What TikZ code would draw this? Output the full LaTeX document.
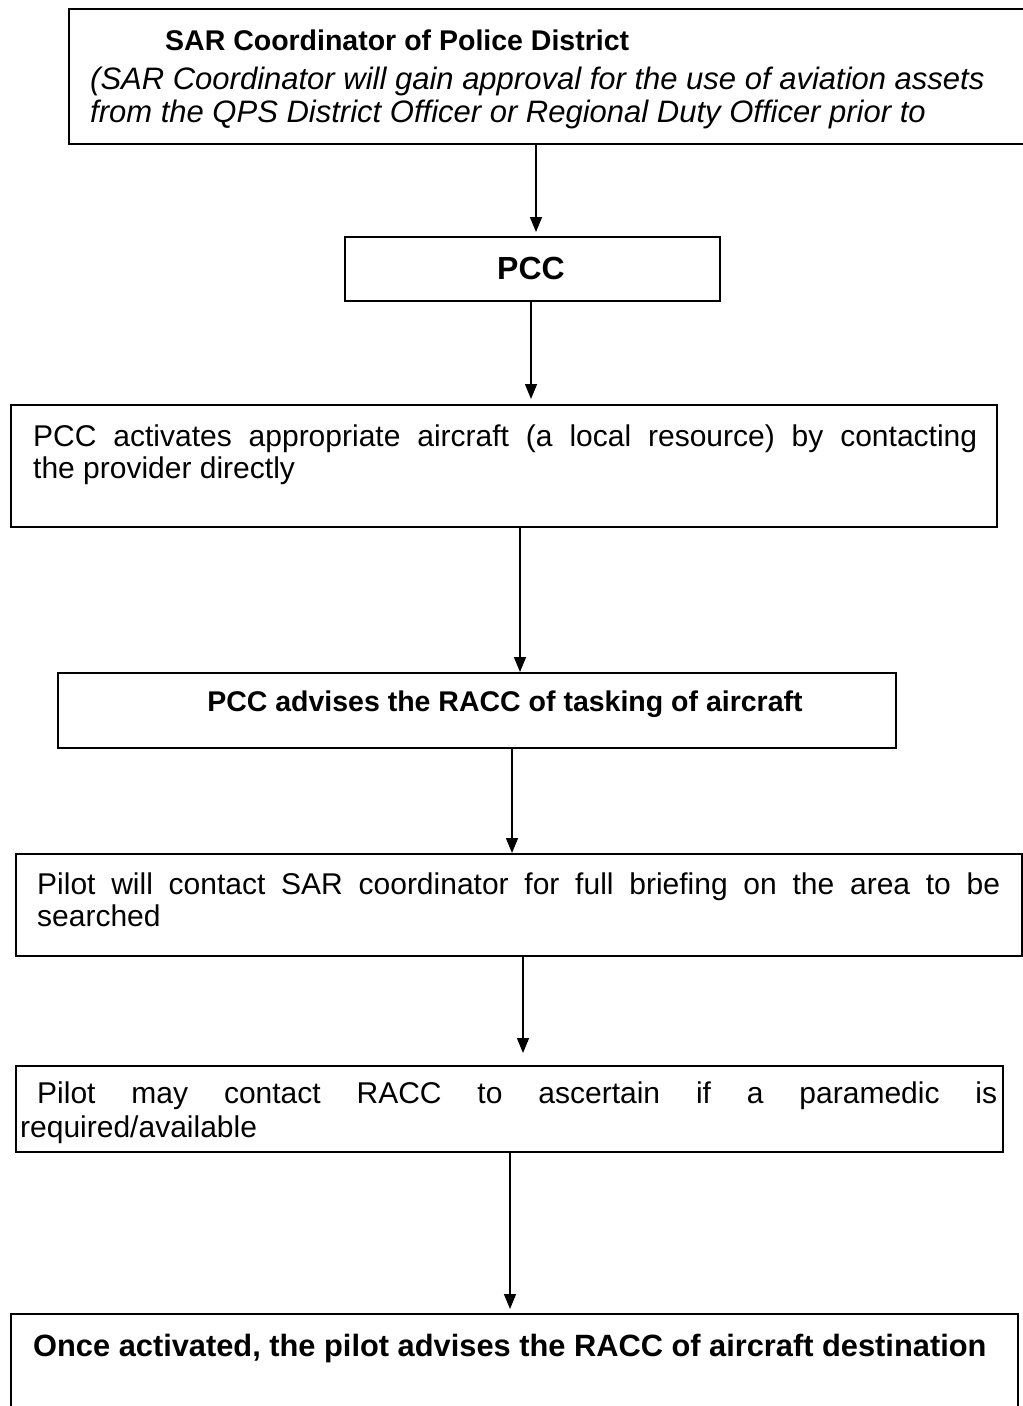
\documentclass[tikz,border=0pt]{standalone}
\usepackage{fontspec}
\setmainfont{Liberation Sans}
\usetikzlibrary{arrows.meta}
\begin{document}
\begin{tikzpicture}[x=1pt,y=-1pt,
  stepbox/.style={draw, line width=2.2pt, inner sep=0pt, anchor=north west},
  flow/.style={line width=1.5pt, -{Triangle[length=15pt,width=12pt]}},
  txt/.style={inner sep=0pt, anchor=base west},
  body/.style={txt, align=justify, font=\fontsize{30}{32}\selectfont},
  boldline/.style={inner sep=0pt, anchor=base},
]
\useasboundingbox (0,0) rectangle (1023,1406);
\clip (0,0) rectangle (1023,1406);

% boxes of the flow chart
\node[stepbox, minimum width=970pt, minimum height=135pt] (b1) at (68,8) {};
\node[stepbox, minimum width=375pt, minimum height=64pt]  (b2) at (344,236) {};
\node[stepbox, minimum width=986pt, minimum height=122pt] (b3) at (10,404) {};
\node[stepbox, minimum width=838pt, minimum height=75pt]  (b4) at (57,672) {};
\node[stepbox, minimum width=1006pt, minimum height=102pt] (b5) at (15,853) {};
\node[stepbox, minimum width=987pt, minimum height=86pt]  (b6) at (15,1065) {};
\node[stepbox, minimum width=1007pt, minimum height=130pt] (b7) at (10,1313) {};

% texts
\node[txt, font=\bfseries\fontsize{28.5}{34}\selectfont] (t1a) at (165,50)
  {SAR Coordinator of Police District};
\node[txt, font=\itshape\fontsize{31}{34}\selectfont] (t1b) at (90,89)
  {(SAR Coordinator will gain approval for the use of aviation assets};
\node[txt, font=\itshape\fontsize{31}{34}\selectfont] (t1c) at (90,122)
  {from the QPS District Officer or Regional Duty Officer prior to};

\node[boldline, font=\bfseries\fontsize{32}{36}\selectfont] (t2) at (531,279) {PCC};

\node[body, text width=944pt] (t3) at (33,446)
  {PCC activates appropriate aircraft (a local resource) by contacting\linebreak the provider directly};

\node[boldline, font=\bfseries\fontsize{28.5}{34}\selectfont] (t4) at (505,711)
  {PCC advises the RACC of tasking of aircraft};

\node[body, text width=963pt] (t5) at (37,894)
  {Pilot will contact SAR coordinator for full briefing on the area to be\linebreak searched};

\node[body, text width=977pt, font=\fontsize{30}{34}\selectfont] (t6) at (20,1103)
  {\hspace*{17pt}Pilot may contact RACC to ascertain if a paramedic is\linebreak required/available};

\node[txt, font=\bfseries\fontsize{30.8}{36}\selectfont] (t7) at (33,1356)
  {Once activated, the pilot advises the RACC of aircraft destination};

% connector columns
\coordinate (x1) at (536,0);
\coordinate (x2) at (531,0);
\coordinate (x3) at (520,0);
\coordinate (x4) at (512,0);
\coordinate (x5) at (523,0);
\coordinate (x6) at (510,0);

\draw[flow, shorten >=4pt] (b1.south -| x1) -- (b2.north -| x1);
\draw[flow, shorten >=5pt] (b2.south -| x2) -- (b3.north -| x2);
\draw[flow] (b3.south -| x3) -- (b4.north -| x3);
\draw[flow] (b4.south -| x4) -- (b5.north -| x4);
\draw[flow, shorten >=12pt] (b5.south -| x5) -- (b6.north -| x5);
\draw[flow, shorten >=4pt] (b6.south -| x6) -- (b7.north -| x6);
\end{tikzpicture}
\end{document}
